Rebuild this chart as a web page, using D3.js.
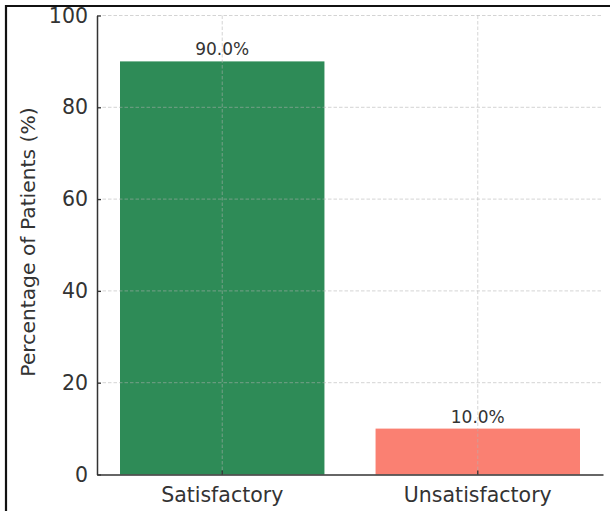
<!DOCTYPE html>
<html>
<head>
<meta charset="utf-8">
<script src="https://cdn.jsdelivr.net/npm/d3@7"></script>
<style>
  html, body { margin: 0; padding: 0; background: #fff; }
  svg { display: block; }
  text { font-family: "DejaVu Sans", sans-serif; fill: #333; }
</style>
</head>
<body>
<svg id="chart" width="610" height="511"></svg>
<script>
// Patient outcome shares
const categories = ["Satisfactory", "Unsatisfactory"];
const percentages = [90.0, 10.0];
const barColors = ["#2e8b57", "#fa8072"];
const yTicks = [0, 20, 40, 60, 80, 100];
const yLabel = "Percentage of Patients (%)";

const svg = d3.select("#chart");
const W = 610, H = 511;
const plot = { left: 97, right: 603, top: 15.5, bottom: 474.5 };

const x = d3.scaleBand()
  .domain(categories)
  .range([plot.left, plot.right])
  .paddingInner(0.2)
  .paddingOuter(0.09);

const y = d3.scaleLinear()
  .domain([0, 100])
  .range([plot.bottom, plot.top]);

// bars
svg.append("g")
  .selectAll("rect")
  .data(categories)
  .join("rect")
  .attr("x", d => x(d))
  .attr("width", x.bandwidth())
  .attr("y", (d, i) => y(percentages[i]))
  .attr("height", (d, i) => y(0) - y(percentages[i]))
  .attr("fill", (d, i) => barColors[i]);

// dashed grid, drawn above the bars
const grid = svg.append("g")
  .attr("stroke", "#b0b0b0")
  .attr("stroke-opacity", 0.55)
  .attr("stroke-width", 1)
  .attr("stroke-dasharray", "3.5,2");
grid.selectAll("line.h")
  .data(yTicks.filter(t => t > 0))
  .join("line")
  .attr("class", "h")
  .attr("x1", plot.left).attr("x2", plot.right)
  .attr("y1", d => y(d)).attr("y2", d => y(d));
grid.selectAll("line.v")
  .data(categories)
  .join("line")
  .attr("class", "v")
  .attr("x1", d => x(d) + x.bandwidth() / 2)
  .attr("x2", d => x(d) + x.bandwidth() / 2)
  .attr("y1", plot.top).attr("y2", plot.bottom);

// value labels
svg.append("g")
  .selectAll("text")
  .data(categories)
  .join("text")
  .attr("x", d => x(d) + x.bandwidth() / 2)
  .attr("y", (d, i) => y(percentages[i]) - 6)
  .attr("text-anchor", "middle")
  .style("font-size", "17px")
  .text((d, i) => percentages[i].toFixed(1) + "%");

// axes
const yAxis = svg.append("g")
  .attr("transform", `translate(${plot.left},0)`)
  .call(d3.axisLeft(y).tickValues(yTicks).tickSizeInner(-4).tickSizeOuter(0).tickPadding(9));
const xAxis = svg.append("g")
  .attr("transform", `translate(0,${plot.bottom})`)
  .call(d3.axisBottom(x).tickSizeInner(-4).tickSizeOuter(0).tickPadding(8));

[yAxis, xAxis].forEach(g => {
  g.select(".domain").attr("stroke", "#333").attr("stroke-width", 1.5);
  g.selectAll(".tick line").attr("stroke", "#333").attr("stroke-width", 1.3);
  g.selectAll(".tick text")
    .attr("fill", "#333")
    .style("font-family", '"DejaVu Sans", sans-serif')
    .style("font-size", "20.5px");
});
xAxis.selectAll(".tick text").attr("dy", "0.95em");

// y-axis title
svg.append("text")
  .attr("transform", `translate(35,${(plot.top + plot.bottom) / 2 - 3}) rotate(-90)`)
  .attr("text-anchor", "middle")
  .style("font-size", "20.3px")
  .text(yLabel);

// outer frame (top and left edges)
svg.append("path")
  .attr("d", `M6,${H} L6,6 L${W},6`)
  .attr("fill", "none")
  .attr("stroke", "#111")
  .attr("stroke-width", 2.2);
</script>
</body>
</html>
